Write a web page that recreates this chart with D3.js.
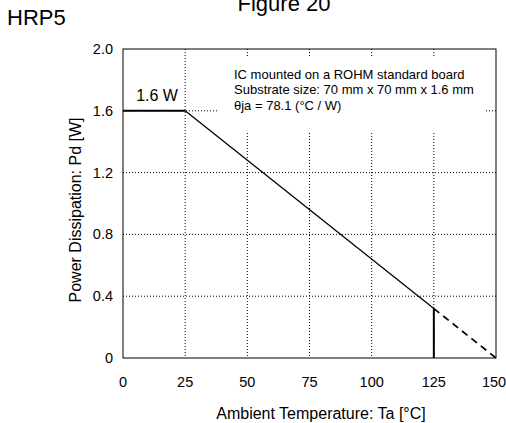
<!DOCTYPE html>
<html>
<head>
<meta charset="utf-8">
<script src="https://cdn.jsdelivr.net/npm/d3@7"></script>
<style>
  body { margin: 0; background: #fff; overflow: hidden; }
  svg text { font-family: "Liberation Sans", Arial, Helvetica, sans-serif; fill: #000; }
</style>
</head>
<body>
<div id="chart"></div>
<script>
// derating curve data
var tempSolid = [0, 25, 125];
var powerSolid = [1.6, 1.6, 0.32];
var tempDashed = [125, 150];
var powerDashed = [0.32, 0];

var xTicks = [0, 25, 50, 75, 100, 125, 150];
var xTickLabels = ["0", "25", "50", "75", "100", "125", "150"];
var yTicks = [0, 0.4, 0.8, 1.2, 1.6, 2.0];
var yTickLabels = ["0", "0.4", "0.8", "1.2", "1.6", "2.0"];
var xGrid = [25, 50, 75, 100, 125];
var yGrid = [0.4, 0.8, 1.2, 1.6];

var noteLines = [
  "IC mounted on a ROHM standard board",
  "Substrate size: 70 mm x 70 mm x 1.6 mm",
  "\u03B8ja = 78.1 (\u00B0C / W)"
];

var margin = {top: 49, right: 10, bottom: 65, left: 123},
    width = 373,
    height = 309;

var root = d3.select("#chart").append("svg")
    .attr("width", 506)
    .attr("height", 423);

// titles outside the plot
root.append("text")
    .attr("x", 284).attr("y", 11)
    .attr("text-anchor", "middle")
    .style("font-size", "22px")
    .text("Figure 20");

root.append("text")
    .attr("x", 7).attr("y", 25)
    .style("font-size", "22px")
    .text("HRP5");

var svg = root.append("g")
    .attr("transform", "translate(" + margin.left + "," + margin.top + ")");

var x = d3.scaleLinear().domain([0, 150]).range([0, width]);
var y = d3.scaleLinear().domain([0, 2]).range([height, 0]);

// dotted grid
svg.selectAll(".vgrid")
  .data(xGrid)
  .enter().append("line")
    .attr("x1", function(d) { return x(d); })
    .attr("x2", function(d) { return x(d); })
    .attr("y1", 0)
    .attr("y2", height)
    .attr("stroke", "#000")
    .attr("stroke-width", 1)
    .attr("stroke-dasharray", "1,2");

svg.selectAll(".hgrid")
  .data(yGrid)
  .enter().append("line")
    .attr("x1", 0)
    .attr("x2", width)
    .attr("y1", function(d) { return y(d); })
    .attr("y2", function(d) { return y(d); })
    .attr("stroke", "#000")
    .attr("stroke-width", 1)
    .attr("stroke-dasharray", "1,2");

// white box behind the note
svg.append("rect")
    .attr("x", 95).attr("y", 9)
    .attr("width", 267).attr("height", 73)
    .style("fill", "#fff");

var note = svg.append("text")
    .attr("x", 111).attr("y", 29.5)
    .style("font-size", "13px");
note.selectAll("tspan")
  .data(noteLines)
  .enter().append("tspan")
    .attr("x", 111)
    .attr("dy", function(d, i) { return i == 0 ? 0 : (i == 1 ? 15 : 16.5); })
    .text(function(d) { return d; });

// frame
svg.append("rect")
    .attr("width", width)
    .attr("height", height)
    .style("fill", "none")
    .style("stroke", "#000")
    .style("stroke-width", 1);

var line = d3.line()
    .x(function(d) { return x(d[0]); })
    .y(function(d) { return y(d[1]); });

svg.append("path")
    .datum(d3.zip(tempSolid.slice(0, 2), powerSolid.slice(0, 2)))
    .attr("d", line)
    .attr("fill", "none")
    .attr("stroke", "#000")
    .attr("stroke-width", 2);

svg.append("path")
    .datum(d3.zip(tempSolid.slice(1), powerSolid.slice(1)))
    .attr("d", line)
    .attr("fill", "none")
    .attr("stroke", "#000")
    .attr("stroke-width", 1.3);

svg.append("path")
    .datum(d3.zip(tempDashed, powerDashed))
    .attr("d", line)
    .attr("fill", "none")
    .attr("stroke", "#000")
    .attr("stroke-width", 1.7)
    .attr("stroke-dasharray", "7,5");

// cut-off line at 125 C
svg.append("line")
    .attr("x1", x(tempDashed[0])).attr("x2", x(tempDashed[0]))
    .attr("y1", y(0)).attr("y2", y(powerDashed[0]))
    .attr("stroke", "#000")
    .attr("stroke-width", 2);

svg.append("text")
    .attr("x", x(5.3)).attr("y", y(1.6) - 9.5)
    .style("font-size", "16px")
    .text("1.6 W");

// tick labels (last one kept inside the page edge)
svg.selectAll(".xlab")
  .data(xTicks)
  .enter().append("text")
    .attr("x", function(d) { return Math.min(x(d), 506 - margin.left - 12); })
    .attr("y", height + 29)
    .attr("text-anchor", "middle")
    .style("font-size", "14.5px")
    .text(function(d, i) { return xTickLabels[i]; });

svg.selectAll(".ylab")
  .data(yTicks)
  .enter().append("text")
    .attr("x", -10)
    .attr("y", function(d) { return y(d); })
    .attr("dy", "0.35em")
    .attr("text-anchor", "end")
    .style("font-size", "14.5px")
    .text(function(d, i) { return yTickLabels[i]; });

// axis titles
svg.append("text")
    .attr("x", 198).attr("y", height + 61)
    .attr("text-anchor", "middle")
    .style("font-size", "16px")
    .text("Ambient Temperature: Ta [\u00B0C]");

svg.append("text")
    .attr("transform", "translate(-42," + 161 + ") rotate(-90)")
    .attr("text-anchor", "middle")
    .style("font-size", "16px")
    .text("Power Dissipation: Pd [W]");
</script>
</body>
</html>
